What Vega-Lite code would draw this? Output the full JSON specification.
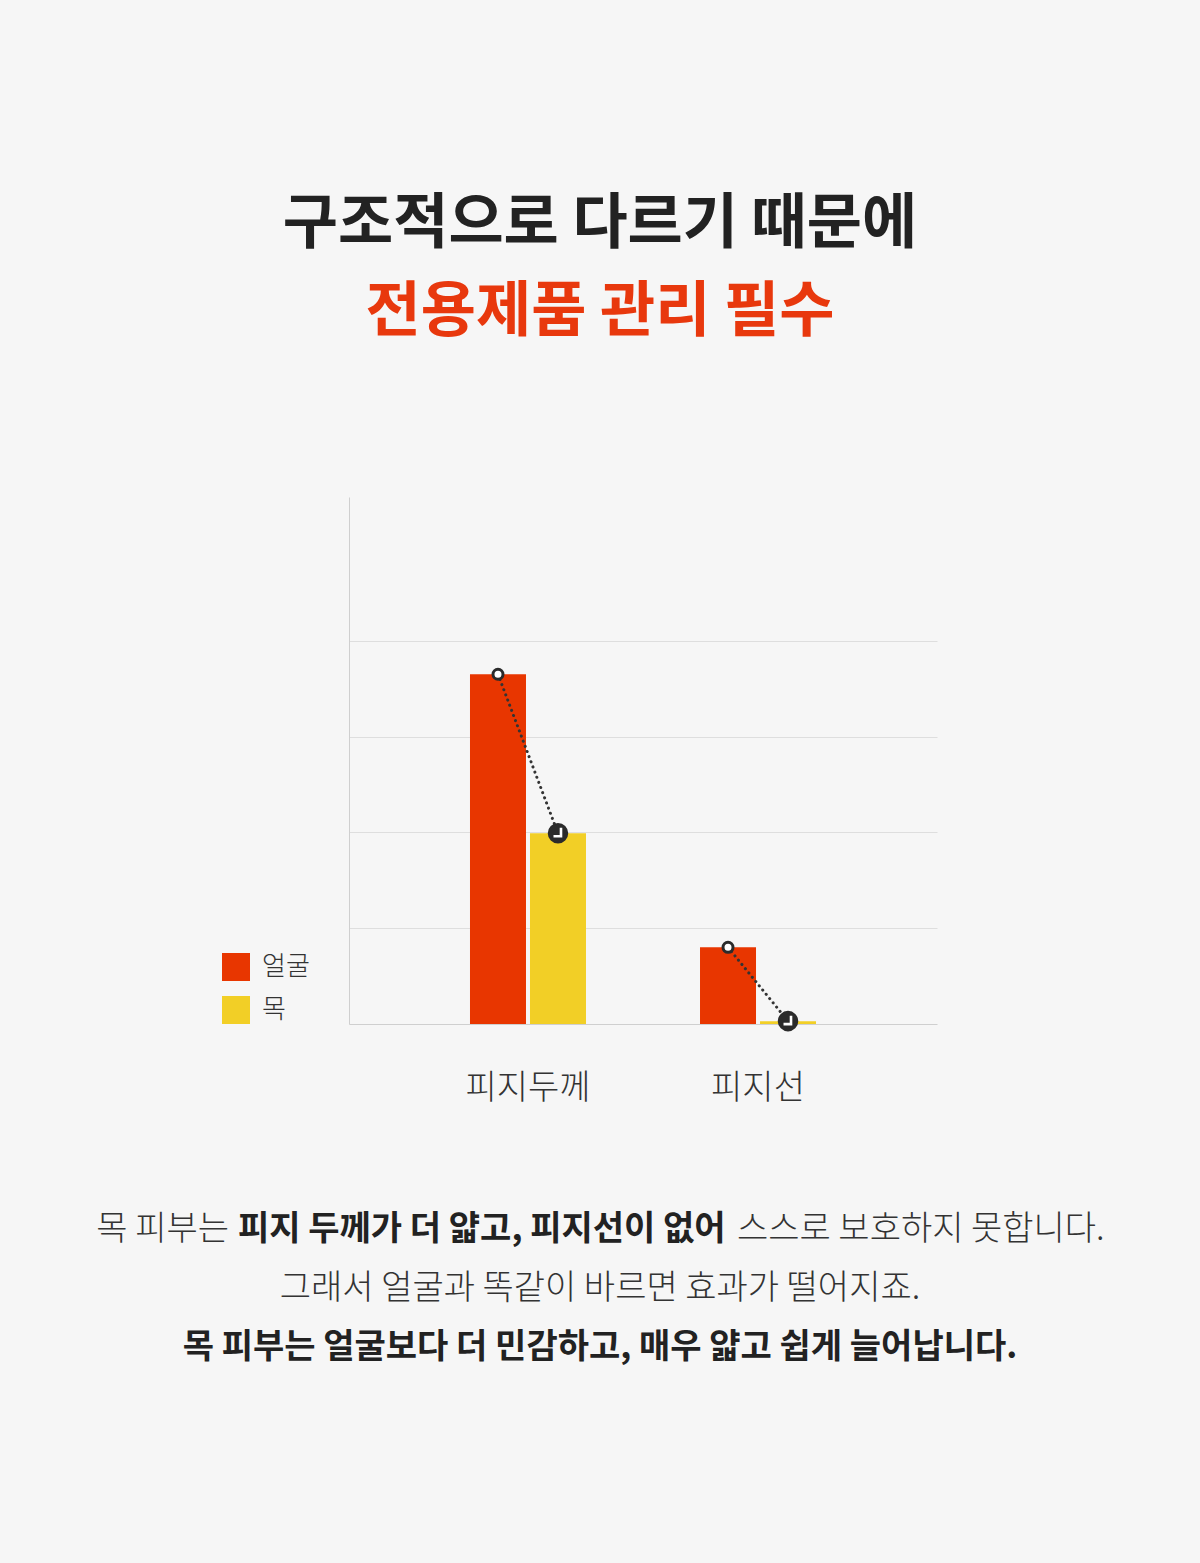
{
  "$schema": "https://vega.github.io/schema/vega-lite/v6.json",
  "autosize": {"type": "none"},
  "width": 588,
  "height": 527,
  "padding": {"left": 349, "top": 497, "right": 263, "bottom": 539},
  "background": "#f6f6f6",
  "config": {"view": {"stroke": null}, "font": "Noto Sans CJK KR"},
  "title": {
    "text": "구조적으로 다르기 때문에",
    "subtitle": "전용제품 관리 필수",
    "anchor": "middle",
    "frame": "group",
    "dx": -43,
    "offset": 153,
    "font": "Noto Sans CJK KR",
    "subtitleFont": "Noto Sans CJK KR",
    "fontSize": 60,
    "subtitleFontSize": 60,
    "fontWeight": "bold",
    "subtitleFontWeight": "bold",
    "color": "#222222",
    "subtitleColor": "#e8380d",
    "subtitlePadding": 28
  },
  "datasets": {
    "bars": [
      {"category": "피지두께", "part": "얼굴", "value": 3.65},
      {"category": "피지두께", "part": "목", "value": 1.99},
      {"category": "피지선", "part": "얼굴", "value": 0.8},
      {"category": "피지선", "part": "목", "value": 0.03}
    ],
    "notes": [
      {"line": 1, "seg": "a", "text": "목 피부는"},
      {"line": 1, "seg": "b", "text": "피지 두께가 더 얇고, 피지선이 없어"},
      {"line": 1, "seg": "c", "text": "스스로 보호하지 못합니다."},
      {"line": 2, "seg": "d", "text": "그래서 얼굴과 똑같이 바르면 효과가 떨어지죠."},
      {"line": 3, "seg": "e", "text": "목 피부는 얼굴보다 더 민감하고, 매우 얇고 쉽게 늘어납니다."}
    ]
  },
  "layer": [
    {
      "data": {"name": "bars"},
      "encoding": {
        "x": {
          "field": "category", "type": "nominal", "sort": ["피지두께", "피지선"],
          "scale": {"paddingInner": 0.4957, "paddingOuter": 0.526},
          "axis": {"title": null, "labelFontSize": 34, "labelColor": "#333333", "labelFontWeight": 300, "labelFont": "Noto Sans CJK KR", "ticks": false, "domainColor": "#cfcfcf", "labelPadding": 47, "labelAngle": 0, "grid": false}
        },
        "xOffset": {"field": "part", "type": "nominal", "sort": ["얼굴", "목"], "scale": {"paddingInner": 0.0667, "paddingOuter": 0}},
        "y": {
          "field": "value", "type": "quantitative",
          "scale": {"domain": [0, 5.5], "nice": false},
          "axis": {"title": null, "labels": false, "ticks": false, "values": [1, 2, 3, 4], "grid": true, "gridColor": "#dedede", "domainColor": "#cfcfcf"}
        }
      },
      "layer": [
        {
          "mark": {"type": "bar"},
          "encoding": {
            "color": {
              "field": "part", "type": "nominal",
              "scale": {"domain": ["얼굴", "목"], "range": ["#e83600", "#f2cf26"]},
              "legend": {"orient": "none", "legendX": -127, "legendY": 456, "title": null, "symbolType": "square", "symbolSize": 784, "symbolStrokeWidth": 0, "labelFontSize": 26, "labelColor": "#333333", "labelFontWeight": 300, "labelFont": "Noto Sans CJK KR", "rowPadding": 15, "labelOffset": 12, "padding": 0, "symbolOpacity": 1}
            }
          }
        },
        {
          "mark": {"type": "line", "stroke": "#333333", "strokeWidth": 3, "strokeDash": [0.1, 5.4], "strokeCap": "round"},
          "encoding": {"detail": {"field": "category"}, "order": {"field": "part", "sort": "descending"}}
        },
        {
          "transform": [{"filter": "datum.part === '얼굴'"}],
          "mark": {"type": "point", "shape": "circle", "filled": true, "fill": "#ffffff", "stroke": "#2b2b2b", "strokeWidth": 3, "size": 100, "opacity": 1}
        },
        {
          "transform": [{"filter": "datum.part === '목'"}],
          "mark": {"type": "point", "shape": "circle", "filled": true, "fill": "#2b2b2b", "size": 420, "opacity": 1}
        },
        {
          "transform": [{"filter": "datum.part === '목'"}],
          "mark": {"type": "point", "shape": "M0.3,-0.55 L0.3,0.3 L-0.45,0.3", "filled": false, "stroke": "#ffffff", "strokeWidth": 2.6, "size": 400, "opacity": 1}
        }
      ]
    },
    {
      "data": {"name": "notes"},
      "encoding": {
        "y": {"field": "line", "type": "ordinal", "scale": {"type": "point", "domain": [1, 2, 3], "range": [733, 851], "padding": 0}, "axis": null},
        "text": {"field": "text"}
      },
      "layer": [
        {"transform": [{"filter": "datum.seg === 'a'"}], "mark": {"type": "text", "align": "right", "baseline": "middle", "dx": -414, "fontSize": 34, "fontWeight": 300, "color": "#333333"}},
        {"transform": [{"filter": "datum.seg === 'b'"}], "mark": {"type": "text", "align": "left", "baseline": "middle", "dx": -405, "fontSize": 34, "fontWeight": "bold", "color": "#222222"}},
        {"transform": [{"filter": "datum.seg === 'c'"}], "mark": {"type": "text", "align": "left", "baseline": "middle", "dx": 94, "fontSize": 34, "fontWeight": 300, "color": "#333333"}},
        {"transform": [{"filter": "datum.seg === 'd'"}], "mark": {"type": "text", "align": "center", "baseline": "middle", "dx": -43, "fontSize": 34, "fontWeight": 300, "color": "#333333"}},
        {"transform": [{"filter": "datum.seg === 'e'"}], "mark": {"type": "text", "align": "center", "baseline": "middle", "dx": -43, "fontSize": 34, "fontWeight": "bold", "color": "#222222"}}
      ]
    }
  ],
  "resolve": {"scale": {"y": "independent"}}
}
